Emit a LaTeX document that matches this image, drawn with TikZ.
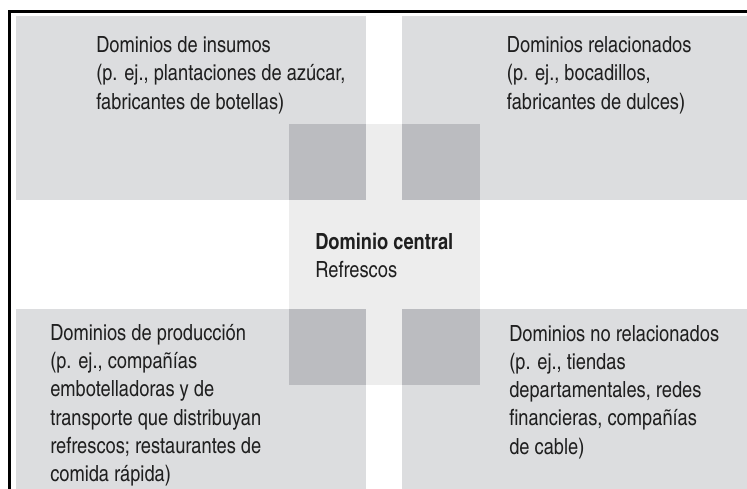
\documentclass[tikz,border=0pt]{standalone}
\usepackage{fontspec}
\setmainfont{TeX Gyre Heros Cn}
\usepackage{tikz}
\definecolor{DomainGray}{RGB}{220,221,223}
\definecolor{CoreGray}{RGB}{237,237,237}
\definecolor{OverlapGray}{RGB}{187,188,192}
\newcommand{\lnstrut}{\rule{0pt}{16pt}}
\tikzset{
  domaintext/.style={anchor=north west,inner sep=0pt,align=left,
    font=\fontsize{16.7pt}{21.2pt}\selectfont,text=black!88}
}

\begin{document}
\begin{tikzpicture}[x=0.75pt,y=-0.75pt]
  \useasboundingbox (0,0) rectangle (747,489);
  % cuadros de los dominios
  \fill[DomainGray] (16,16) rectangle (366,200);
  \fill[DomainGray] (402,16) rectangle (747,200);
  \fill[DomainGray] (16,309) rectangle (366,489);
  \fill[DomainGray] (402,309) rectangle (747,489);
  \fill[CoreGray] (289,200) rectangle (480,309);
  \fill[CoreGray] (366,124) rectangle (402,385);
  % zonas de traslape
  \fill[OverlapGray] (289,124) rectangle (366,200);
  \fill[OverlapGray] (402,124) rectangle (480,200);
  \fill[OverlapGray] (289,309) rectangle (366,385);
  \fill[OverlapGray] (402,309) rectangle (480,385);
  % marco
  \draw[line width=2pt] (9.5,489) -- (9.5,11.5) -- (747,11.5);
  % textos
  \node[domaintext] (insumos) at (96,31)
    {\lnstrut Dominios de insumos\\(p. ej., plantaciones de azúcar,\\fabricantes de botellas)};
  \node[domaintext] (relacionados) at (506.7,31)
    {\lnstrut Dominios relacionados\\(p. ej., bocadillos,\\fabricantes de dulces)};
  \node[domaintext] (central) at (315,227.7)
    {\lnstrut\textbf{Dominio central}\\Refrescos};
  \node[domaintext] (produccion) at (50,318.7)
    {\lnstrut Dominios de producción\\(p. ej., compañías\\embotelladoras y de\\transporte que distribuyan\\refrescos; restaurantes de\\comida rápida)};
  \node[domaintext] (norelacionados) at (509,319.4)
    {\lnstrut Dominios no relacionados\\(p. ej., tiendas\\departamentales, redes\\financieras, compañías\\de cable)};
\end{tikzpicture}
\end{document}
